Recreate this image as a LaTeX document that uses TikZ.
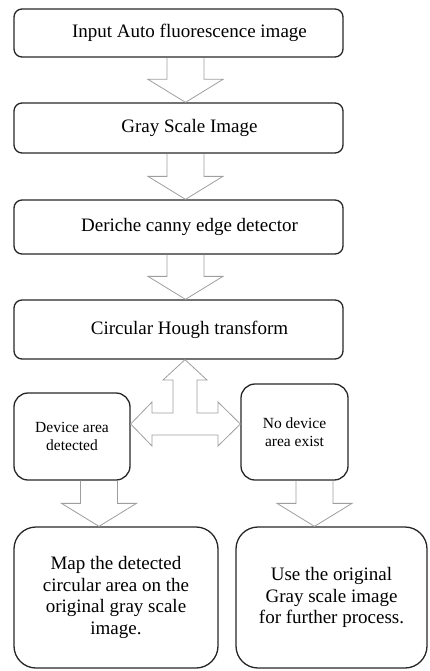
\documentclass[tikz,border=0pt]{standalone}
\usepackage{fontspec}
\setmainfont{Liberation Serif}
\usetikzlibrary{calc}
\colorlet{framecol}{black!85}
\colorlet{arrowcol}{black!38}
\tikzstyle{stepbox} = [draw = framecol, line width = 1.3, rounded corners = 8, align = center, inner sep = 0pt]
\tikzstyle{bigfont} = [font = \fontsize{19}{21.5}\selectfont]
\tikzstyle{smallfont} = [font = \fontsize{15.5}{17.5}\selectfont]
\tikzstyle{offcentre} = [execute at begin node = \hspace*{22pt}]
\tikzstyle{blockarrow} = [draw = arrowcol, line width = 0.8, line join = miter]

\begin{document}
\begin{tikzpicture}[x=1pt,y=-1pt]
  \def\sw{18.5}  % half width of the shaft
  \def\hw{37.5}  % half width of the head
  \def\hl{23pt}  % length of the head
  \useasboundingbox (0,0) rectangle (429,671);

  % PIPELINE
  \node[stepbox,bigfont,offcentre,minimum width=329,minimum height=48] (input) at (178.5,33)
    {Input Auto fluorescence image};
  \node[stepbox,bigfont,offcentre,minimum width=329,minimum height=50] (gray) at (178.5,128)
    {Gray Scale Image};
  \node[stepbox,bigfont,offcentre,minimum width=329,minimum height=54] (deriche) at (178.5,227)
    {Deriche canny edge detector};
  \node[stepbox,bigfont,offcentre,minimum width=329,minimum height=59] (hough) at (178.5,329.5)
    {Circular Hough transform};

  % DECISION
  \node[stepbox,smallfont,rounded corners=14,minimum width=116,minimum height=87] (found) at (72,436.5)
    {Device area\\detected};
  \node[stepbox,smallfont,rounded corners=14,minimum width=107,minimum height=96] (nofound) at (294.5,432)
    {No device\\area exist};

  % RESULTS
  \node[stepbox,bigfont,rounded corners=22,minimum width=204,minimum height=141] (mapped) at (116,597.5)
    {Map the detected\\circular area on the\\original gray scale\\image.};
  \node[stepbox,bigfont,rounded corners=22,minimum width=191,minimum height=141] (original) at (331.5,597.5)
    {Use the original\\Gray scale image\\for further process.};

  % BLOCK ARROWS
  \foreach \a/\b/\ax in {input/gray/185.5, gray/deriche/185.5, deriche/hough/185.5,
                         found/mapped/99, nofound/original/314.5}{
    \draw[blockarrow] let \p1=(\a.south), \p2=(\b.north) in
      (\ax-\sw,\y1) -- (\ax-\sw,\y2+\hl) -- (\ax-\hw,\y2+\hl) -- (\ax,\y2)
      -- (\ax+\hw,\y2+\hl) -- (\ax+\sw,\y2+\hl) -- (\ax+\sw,\y1);
  }
  % three-way arrow below the transform
  \draw[blockarrow] let \p1=(hough.south), \p2=(found.east), \p3=(nofound.west) in
    (185,\y1) -- (207,380) -- (197,380) -- (197,413) -- (218,413) -- (218,402)
    -- (\x3,424) -- (218,446) -- (218,435) -- (152,435) -- (152,446)
    -- (\x2,424) -- (152,402) -- (152,413) -- (173,413) -- (173,380)
    -- (163,380) -- cycle;
\end{tikzpicture}
\end{document}
